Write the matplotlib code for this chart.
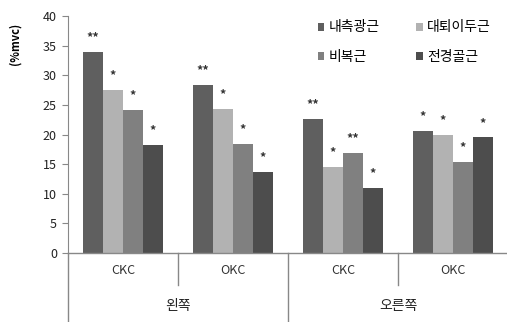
import matplotlib
matplotlib.use("Agg")
import matplotlib.pyplot as plt
from matplotlib.lines import Line2D
import numpy as np

plt.rcParams['font.family'] = ['Noto Sans CJK KR', 'DejaVu Sans']

sides = ["왼쪽", "오른쪽"]
exercises = ["CKC", "OKC", "CKC", "OKC"]
muscles = ["내측광근", "대퇴이두근", "비복근", "전경골근"]
values = {
    "내측광근": [34.0, 28.3, 22.6, 20.6],
    "대퇴이두근": [27.5, 24.3, 14.5, 19.9],
    "비복근": [24.1, 18.4, 16.9, 15.3],
    "전경골근": [18.2, 13.7, 11.0, 19.5],
}
stars = {
    "내측광근": ["**", "**", "**", "*"],
    "대퇴이두근": ["*", "*", "*", "*"],
    "비복근": ["*", "*", "**", "*"],
    "전경골근": ["*", "*", "*", "*"],
}
colors = ["#5f5f5f", "#b2b2b2", "#808080", "#4d4d4d"]
yticks = [0, 5, 10, 15, 20, 25, 30, 35, 40]

W, H = 507, 322
fig = plt.figure(figsize=(W / 100, H / 100), dpi=100)
ax = fig.add_axes([68 / W, 69 / H, 440 / W, 237 / H])

bw = 20 / 110
x0 = np.arange(len(exercises)) + 15 / 110
handles = []
for i, m in enumerate(muscles):
    xs = x0 + i * bw
    b = ax.bar(xs, values[m], width=bw, align='edge', color=colors[i], label=m, linewidth=0)
    handles.append(b)
    for x, v, s in zip(xs, values[m], stars[m]):
        ax.text(x + bw / 2, v + 2.4, s, ha='center', va='center', fontsize=9,
                fontweight='bold', color='#333333')

ax.set_xlim(0, 4)
ax.set_ylim(0, 40)
ax.set_yticks(yticks)
ax.tick_params(axis='y', direction='out', length=4, color='#888888', labelsize=9, pad=4,
               labelcolor='#222222')
ax.set_xticks([])
for s in ['top', 'right', 'bottom']:
    ax.spines[s].set_visible(False)
ax.spines['left'].set_color('#888888')
ax.axhline(0, color='#888888', lw=1, clip_on=False)

trans = ax.get_xaxis_transform()
bottom_y = -69 / 237
short_y = -32 / 237
ax.add_line(Line2D([0, 0], [0, bottom_y], transform=trans, color='#888888', lw=1, clip_on=False))
ax.add_line(Line2D([2, 2], [0, bottom_y], transform=trans, color='#888888', lw=1, clip_on=False))
for xv in [1, 3]:
    ax.add_line(Line2D([xv, xv], [0, short_y], transform=trans, color='#888888', lw=1, clip_on=False))

for i, e in enumerate(exercises):
    ax.text(i + 0.5, -17 / 237, e, transform=trans, ha='center', va='center', fontsize=9, color='#333333')
for i, sname in enumerate(sides):
    ax.text(2 * i + 1, -53 / 237, sname, transform=trans, ha='center', va='center', fontsize=10, color='#222222')

fig.text(15 / W, 1 - 44 / H, "(%mvc)", rotation=90, ha='center', va='center', fontsize=8, fontweight='bold')

order = [0, 2, 1, 3]
leg = ax.legend([handles[k] for k in order], [muscles[k] for k in order],
                loc='upper left', bbox_to_anchor=(305 / W, 1 - 8 / H), bbox_transform=fig.transFigure,
                ncol=2, frameon=False, fontsize=10, handlelength=0.5, handleheight=0.5,
                handletextpad=0.3, columnspacing=2.6, labelspacing=1.1)

fig.savefig("out.png", dpi=100)
